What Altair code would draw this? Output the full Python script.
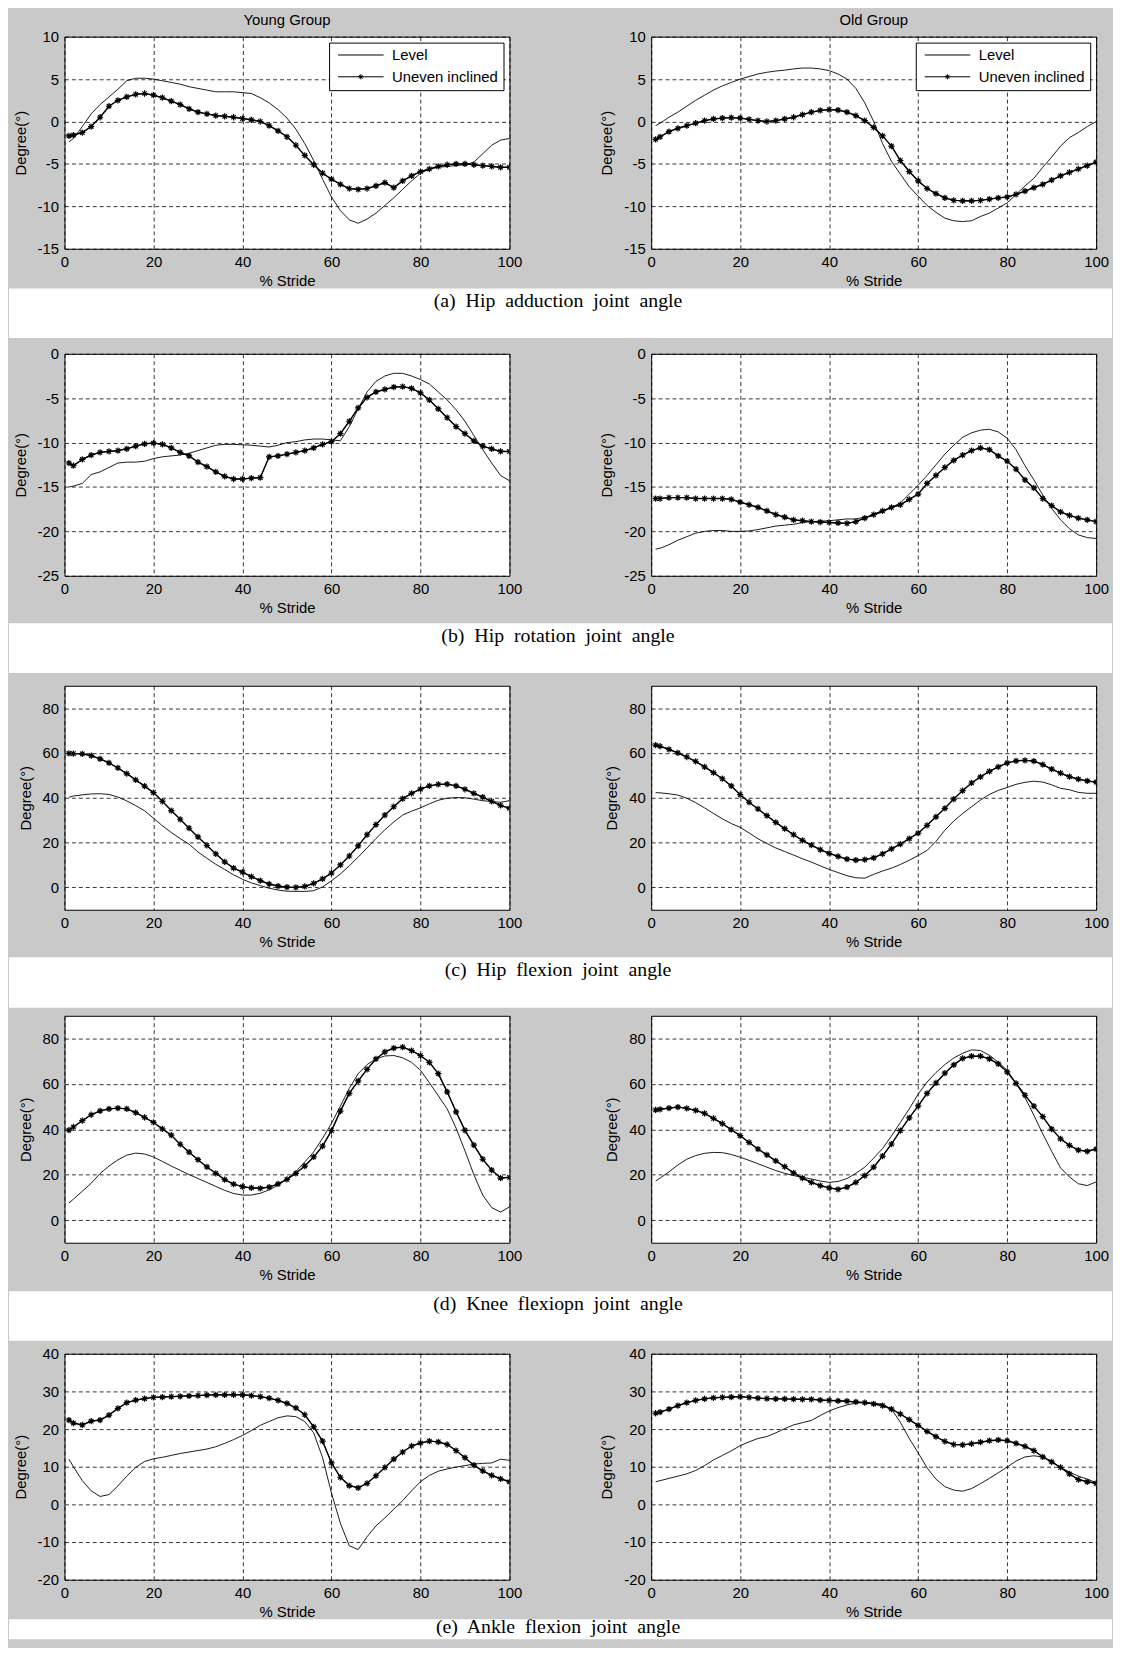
import altair as alt
import pandas as pd

# ---------------- data ----------------
STRIDE = [1, 2, 4, 6, 8, 10, 12, 14, 16, 18,
          20, 22, 24, 26, 28, 30, 32, 34, 36, 38,
          40, 42, 44, 46, 48, 50, 52, 54, 56, 58,
          60, 62, 64, 66, 68, 70, 72, 74, 76, 78,
          80, 82, 84, 86, 88, 90, 92, 94, 96, 98,
          100]
SERIES = ["Level", "Uneven inclined"]
X_TICKS = [0, 20, 40, 60, 80, 100]
GROUPS = ["Young Group", "Old Group"]
CAPTIONS = ["(a)  Hip  adduction  joint  angle",
            "(b)  Hip  rotation  joint  angle",
            "(c)  Hip  flexion  joint  angle",
            "(d)  Knee  flexiopn  joint  angle",
            "(e)  Ankle  flexion  joint  angle"]

# (a) hip adduction
A_YOUNG_LEVEL = [-2.4, -2.0, -0.6, 0.9, 2.0, 2.9, 3.8, 4.8, 5.1, 5.1,
                 5.0, 4.8, 4.6, 4.4, 4.1, 3.9, 3.7, 3.5, 3.5, 3.5,
                 3.4, 3.3, 2.8, 2.2, 1.4, 0.4, -0.9, -2.6, -4.6, -6.8,
                 -8.9, -10.5, -11.6, -12.0, -11.5, -10.8, -9.9, -9.0, -8.0, -7.0,
                 -6.1, -5.6, -5.4, -5.3, -5.2, -5.1, -4.8, -3.8, -2.8, -2.2,
                 -2.0]
A_YOUNG_UNEVEN = [-1.7, -1.6, -1.3, -0.6, 0.5, 1.8, 2.5, 2.9, 3.2, 3.3,
                  3.1, 2.8, 2.4, 2.0, 1.5, 1.1, 0.9, 0.7, 0.6, 0.5,
                  0.35, 0.2, 0.0, -0.5, -1.1, -1.8, -2.8, -4.0, -5.1, -6.1,
                  -6.8, -7.4, -7.9, -8.0, -7.9, -7.6, -7.2, -7.8, -7.0, -6.4,
                  -5.9, -5.6, -5.3, -5.1, -5.0, -5.0, -5.1, -5.2, -5.3, -5.4,
                  -5.4]
A_OLD_LEVEL = [-0.5, -0.2, 0.5, 1.1, 1.8, 2.5, 3.1, 3.7, 4.2, 4.6,
               5.0, 5.3, 5.6, 5.8, 5.95, 6.05, 6.2, 6.3, 6.3, 6.2,
               6.0, 5.6, 5.0, 3.9, 2.2, 0.0, -2.6, -4.7, -6.2, -7.7,
               -8.8, -9.9, -10.7, -11.4, -11.7, -11.8, -11.7, -11.2, -10.8, -10.2,
               -9.6, -8.6, -7.6, -6.7, -5.4, -4.2, -2.9, -1.9, -1.3, -0.6,
               0.0]
A_OLD_UNEVEN = [-2.1, -1.8, -1.2, -0.8, -0.5, -0.2, 0.1, 0.3, 0.4, 0.45,
                0.4, 0.25, 0.1, 0.0, 0.1, 0.3, 0.5, 0.8, 1.1, 1.3,
                1.4, 1.35, 1.1, 0.7, 0.1, -0.7, -1.7, -2.9, -4.6, -5.9,
                -7.0, -7.9, -8.5, -9.0, -9.3, -9.35, -9.35, -9.3, -9.15, -9.0,
                -8.9, -8.6, -8.2, -7.8, -7.4, -6.9, -6.4, -6.0, -5.6, -5.2,
                -4.8]

# (b) hip rotation
B_YOUNG_LEVEL = [-15.0, -14.9, -14.6, -13.6, -13.3, -12.8, -12.3, -12.2, -12.2, -12.1,
                 -11.8, -11.6, -11.5, -11.4, -11.2, -10.9, -10.6, -10.3, -10.2, -10.2,
                 -10.25, -10.3, -10.4, -10.5, -10.3, -10.0, -9.9, -9.7, -9.6, -9.6,
                 -9.7, -9.8, -8.2, -6.2, -4.3, -3.1, -2.5, -2.2, -2.2, -2.5,
                 -2.9, -3.4, -4.3, -5.2, -6.3, -7.6, -9.2, -10.8, -12.3, -13.7,
                 -14.3]
B_YOUNG_UNEVEN = [-12.3, -12.6, -11.9, -11.4, -11.1, -11.0, -10.9, -10.7, -10.4, -10.15,
                  -10.05, -10.2, -10.6, -11.1, -11.5, -12.2, -12.7, -13.3, -13.8, -14.1,
                  -14.1, -14.0, -13.95, -11.6, -11.5, -11.3, -11.1, -10.9, -10.6, -10.2,
                  -9.9, -9.0, -7.6, -6.1, -4.9, -4.3, -4.0, -3.75, -3.7, -3.9,
                  -4.4, -5.2, -6.2, -7.2, -8.2, -9.0, -9.8, -10.4, -10.7, -11.0,
                  -11.0]
B_OLD_LEVEL = [-22.0, -21.9, -21.5, -21.0, -20.6, -20.2, -20.0, -19.9, -19.9, -20.0,
               -20.0, -19.95, -19.8, -19.6, -19.4, -19.3, -19.2, -19.0, -18.9, -18.85,
               -18.8, -18.7, -18.6, -18.6, -18.4, -18.2, -17.8, -17.3, -16.8, -15.8,
               -14.8, -13.7, -12.5, -11.3, -10.3, -9.4, -8.9, -8.6, -8.5, -8.8,
               -9.5, -10.8, -12.6, -14.2, -15.9, -17.4, -18.7, -19.7, -20.4, -20.7,
               -20.8]
B_OLD_UNEVEN = [-16.3, -16.3, -16.2, -16.2, -16.2, -16.3, -16.3, -16.3, -16.3, -16.4,
                -16.7, -17.0, -17.3, -17.7, -18.1, -18.4, -18.7, -18.8, -18.9, -18.95,
                -19.0, -19.05, -19.1, -18.9, -18.5, -18.1, -17.7, -17.3, -17.0, -16.4,
                -15.8, -14.6, -13.7, -12.8, -12.0, -11.4, -10.9, -10.6, -10.8, -11.5,
                -12.1, -13.0, -14.2, -15.1, -16.3, -17.1, -17.8, -18.2, -18.5, -18.7,
                -18.9]

# (c) hip flexion
C_YOUNG_LEVEL = [40.2, 40.8, 41.3, 41.7, 41.8, 41.5, 40.3, 38.6, 36.5, 34.2,
                 30.9, 27.5, 24.5, 21.8, 19.3, 15.8, 13.0, 10.3, 8.0, 5.6,
                 3.6, 2.0, 0.8, -0.4, -1.2, -1.7, -1.8, -1.8, -1.5, 0.2,
                 2.9, 6.0, 9.6, 13.5, 17.6, 21.8, 25.7, 29.2, 32.3, 34.0,
                 35.5, 37.3, 38.9, 39.8, 40.1, 40.0, 39.4, 38.7, 38.3, 38.0,
                 38.7]
C_YOUNG_UNEVEN = [59.8, 59.7, 59.6, 58.8, 57.4, 55.6, 53.3, 50.8, 48.0, 45.2,
                  42.3, 38.4, 34.3, 30.4, 26.4, 22.5, 18.7, 15.0, 11.4, 8.6,
                  6.8, 4.8, 3.0, 1.5, 0.6, 0.1, 0.0, 0.4, 1.8, 3.8,
                  6.4, 10.0, 14.0, 18.5, 23.5, 28.0, 32.3, 36.0, 39.6, 42.0,
                  43.9, 45.3, 46.0, 46.1, 45.3, 43.8, 42.0, 40.3, 38.4, 36.6,
                  35.3]
C_OLD_LEVEL = [42.3, 42.2, 41.8, 41.2, 39.8, 37.8, 35.5, 33.0, 30.6, 28.5,
               26.8, 24.3, 21.7, 19.6, 17.6, 16.0, 14.4, 12.8, 11.3, 9.6,
               8.0, 6.6, 5.2, 4.3, 4.1, 5.8, 7.3, 8.6, 10.2, 12.1,
               14.2, 16.5, 20.5, 25.5, 29.6, 33.0, 36.0, 39.0, 41.5, 43.3,
               44.6, 46.0, 46.9, 47.4, 47.0, 45.8, 44.2, 43.6, 42.4, 42.0,
               42.0]
C_OLD_UNEVEN = [63.5, 63.0, 61.6, 60.0, 58.2, 56.2, 53.8, 51.2, 48.5, 45.3,
                41.4, 38.0, 35.0, 32.0, 29.0, 26.2, 23.5, 21.0, 18.9, 16.8,
                15.2, 13.8, 12.6, 12.2, 12.4, 13.2, 15.0, 17.2, 19.3, 21.8,
                24.2, 27.7, 31.5, 35.3, 39.4, 43.2, 46.6, 49.3, 51.8, 53.8,
                55.6, 56.5, 56.7, 56.4, 54.8, 52.8, 51.0, 49.4, 48.3, 47.5,
                47.0]

# (d) knee flexion
D_YOUNG_LEVEL = [7.5, 9.2, 12.7, 16.2, 20.5, 23.8, 26.5, 28.6, 29.5, 29.1,
                 27.8, 25.8, 23.8, 21.9, 20.0, 18.3, 16.6, 14.8, 13.1, 11.7,
                 11.0, 11.0, 11.8, 13.3, 15.3, 18.2, 21.4, 25.6, 30.0, 36.0,
                 42.6, 50.2, 58.0, 64.5, 68.5, 71.0, 72.3, 72.5, 71.5, 69.5,
                 66.0, 60.5, 54.8, 49.0, 40.5, 30.5, 20.0, 11.0, 5.5, 3.5,
                 5.8]
D_YOUNG_UNEVEN = [39.6, 41.0, 43.8, 46.4, 48.1, 49.0, 49.3, 49.0, 47.3, 45.2,
                  43.0, 40.2, 37.4, 33.4, 29.9, 26.6, 23.4, 20.6, 17.8, 15.8,
                  14.7, 14.2, 14.0, 14.5, 15.9, 17.9, 20.6, 23.8, 27.8, 32.6,
                  39.4, 48.0, 55.8, 61.3, 66.4, 71.0, 74.1, 75.8, 76.2, 74.7,
                  72.5, 69.5, 64.5, 56.5, 47.7, 39.5, 33.0, 26.8, 22.0, 18.5,
                  18.8]
D_OLD_LEVEL = [17.2, 18.5, 21.2, 24.3, 26.8, 28.4, 29.4, 29.8, 29.7, 28.9,
               27.7, 26.3, 24.8, 23.3, 21.8, 20.6, 19.6, 18.8, 18.1, 17.2,
               16.6, 17.0, 18.3, 20.6, 23.3, 27.3, 31.5, 37.0, 43.0, 49.0,
               55.5, 60.8, 65.0, 68.5, 71.4, 73.5, 75.0, 74.7, 72.6, 69.6,
               66.0, 60.2, 54.0, 46.2, 38.0, 30.3, 23.0, 19.0, 16.0, 15.2,
               16.8]
D_OLD_UNEVEN = [48.5, 48.8, 49.3, 49.8, 49.2, 48.3, 47.0, 44.8, 42.5, 39.8,
                37.2, 34.2, 31.3, 28.7, 26.1, 23.5, 20.8, 18.5, 16.6, 15.2,
                14.2, 13.5, 14.5, 16.6, 19.6, 23.3, 28.2, 33.5, 39.4, 45.0,
                50.3, 55.8, 60.4, 64.7, 68.4, 71.2, 72.2, 72.2, 71.0, 68.8,
                65.3, 60.2, 55.0, 50.2, 45.6, 40.1, 35.8, 32.9, 30.8, 30.3,
                31.3]

# (e) ankle flexion
E_YOUNG_LEVEL = [12.0, 10.0, 6.3, 3.6, 2.1, 2.6, 4.9, 7.5, 9.8, 11.4,
                 12.1, 12.5, 13.0, 13.5, 13.9, 14.3, 14.7, 15.3, 16.2, 17.2,
                 18.3, 19.6, 21.0, 22.0, 23.0, 23.5, 23.3, 22.0, 19.0, 12.4,
                 3.0, -5.0, -11.0, -12.0, -8.6, -5.7, -3.6, -1.3, 1.0, 3.6,
                 6.0, 7.7, 8.8, 9.4, 9.9, 10.3, 10.7, 10.9, 11.0, 12.0,
                 11.7]
E_YOUNG_UNEVEN = [22.4, 21.6, 21.1, 22.1, 22.4, 23.7, 25.5, 27.0, 27.7, 28.1,
                  28.4, 28.5, 28.6, 28.7, 28.8, 28.9, 29.0, 29.1, 29.1, 29.1,
                  29.1, 28.9, 28.6, 28.2, 27.6, 26.8, 25.6, 23.8, 20.6, 16.8,
                  11.0, 7.2, 5.0, 4.4, 5.6, 7.6, 9.8, 12.0, 13.9, 15.5,
                  16.3, 16.8, 16.6, 15.9, 14.3, 12.4, 10.4, 8.9, 7.7, 6.8,
                  6.0]
E_OLD_LEVEL = [6.0, 6.3, 6.9, 7.5, 8.1, 9.0, 10.3, 11.8, 13.0, 14.2,
               15.6, 16.6, 17.5, 18.0, 19.0, 20.1, 21.1, 21.7, 22.3, 23.6,
               24.8, 25.7, 26.4, 26.9, 27.1, 26.9, 26.6, 25.3, 21.8, 17.5,
               13.7, 9.7, 6.7, 4.7, 3.8, 3.5, 4.2, 5.5, 6.9, 8.4,
               9.9, 11.5, 12.6, 12.9, 12.6, 11.4, 9.8, 8.6, 7.5, 6.7,
               5.8]
E_OLD_UNEVEN = [24.2, 24.5, 25.3, 26.2, 27.0, 27.6, 28.0, 28.3, 28.4, 28.5,
                28.6, 28.4, 28.2, 28.1, 28.0, 28.0, 27.95, 27.9, 27.9, 27.7,
                27.6, 27.5, 27.4, 27.2, 27.0, 26.7, 26.2, 25.3, 24.0, 22.5,
                21.0, 19.4, 18.0, 16.7, 15.9, 15.8, 16.1, 16.5, 16.9, 17.1,
                16.9, 16.2, 15.4, 14.3, 12.6, 11.3, 9.8, 8.1, 6.6, 6.0,
                5.6]

Y_DOMAINS = [[-15, 10], [-25, 0], [-10, 90], [-10, 90], [-20, 40]]
Y_TICKS = [[-15, -10, -5, 0, 5, 10],
           [-25, -20, -15, -10, -5, 0],
           [0, 20, 40, 60, 80],
           [0, 20, 40, 60, 80],
           [-20, -10, 0, 10, 20, 30, 40]]

# ---------------- styling / layout ----------------
GRAY = "#c9c9c9"
SANS = "'Liberation Sans', Arial, sans-serif"
SERIF = "'Liberation Serif', 'Times New Roman', serif"
FS = 15
PANEL_W = 449
GAP_X = 143
LEFT_PAD = 56
TOTAL_W = 1113
ROW_H = [214, 224, 226, 229, 228]
GAP_H = [106, 111, 107, 112, 60]
WHITE = [(40, 90), (48, 98), (48, 99), (49, 99), (40, 60)]
CAP_BASE = [18.5, 18.5, 18.5, 18.5, 14]
CAP_X = 498
TITLE_Y = -17

ASTERISK = "M0,-1L0,1M-1,0L1,0M-0.7,-0.7L0.7,0.7M-0.7,0.7L0.7,-0.7"
LEG_LEVEL = "M-4,0L4,0"
LEG_UNEVEN = ("M-4,0L4,0M0,-0.45L0,0.45M-0.45,0L0.45,0"
              "M-0.3,-0.3L0.3,0.3M-0.3,0.3L0.3,-0.3")

ONE = pd.DataFrame({"k": [0]})


def panel(level, uneven, ydom, yticks, height, title=None, legend=False):
    n = len(STRIDE)
    df = pd.DataFrame({
        "stride": STRIDE + STRIDE,
        "deg": level + uneven,
        "series": [SERIES[0]] * n + [SERIES[1]] * n,
    })
    x = alt.X("stride:Q", scale=alt.Scale(domain=[0, 100], nice=False),
              axis=alt.Axis(values=X_TICKS, tickCount=len(X_TICKS), title="% Stride",
                            labelExpr="'' + datum.value", titlePadding=4, labelPadding=6))
    y = alt.Y("deg:Q", scale=alt.Scale(domain=ydom, nice=False, zero=False),
              axis=alt.Axis(values=yticks, tickCount=len(yticks), title="Degree(°)",
                            labelExpr="'' + datum.value", titlePadding=9, labelPadding=6))
    if legend:
        leg = alt.Legend(
            title=None, orient="top-right", offset=6,
            fillColor="white", strokeColor="black", padding=5, cornerRadius=0,
            labelFont=SANS, labelFontSize=FS, labelColor="black",
            symbolType=alt.ExprRef(
                "datum.value === 'Level' ? '%s' : '%s'" % (LEG_LEVEL, LEG_UNEVEN)),
            symbolSize=132, symbolStrokeWidth=1,
            symbolStrokeColor="black", symbolOffset=19.5, labelOffset=24,
            rowPadding=6,
        )
    else:
        leg = None
    lines = alt.Chart(df).mark_line(clip=True, strokeWidth=0.9).encode(
        x=x, y=y,
        color=alt.Color("series:N", scale=alt.Scale(domain=SERIES, range=["black", "black"]),
                        legend=leg),
        detail="series:N",
    )
    unev = alt.Chart(df).transform_filter(alt.datum.series == SERIES[1])
    unev_line = unev.mark_line(clip=True, color="black", strokeWidth=1.4).encode(
        x="stride:Q", y="deg:Q")
    unev_pts = unev.mark_point(shape=ASTERISK, size=40, filled=False, color="black",
                               strokeWidth=1.2, opacity=1, clip=True).encode(
        x="stride:Q", y="deg:Q")
    layers = [lines, unev_line, unev_pts]
    if title:
        layers.append(alt.Chart(ONE).mark_text(
            text=title, font=SANS, fontSize=FS, color="black", align="center",
            baseline="middle", clip=False).encode(
            x=alt.value(PANEL_W / 2), y=alt.value(TITLE_Y)))
    return alt.layer(*layers).properties(width=PANEL_W, height=height)


def caption_left(text, height, w0, w1, base):
    rect = alt.Chart(ONE).mark_rect(color="white", clip=False).encode(
        x=alt.value(-LEFT_PAD), x2=alt.value(TOTAL_W - LEFT_PAD),
        y=alt.value(w0), y2=alt.value(w1))
    txt = alt.Chart(ONE).mark_text(
        text=text.replace("  ", "\u00a0 "), font=SERIF, fontSize=20, color="black",
        align="center", baseline="alphabetic", clip=False).encode(
        x=alt.value(CAP_X), y=alt.value(w0 + base))
    return alt.layer(rect, txt).properties(
        width=PANEL_W, height=height,
        view=alt.ViewBackground(fill="transparent", stroke="transparent"))


def caption_right(height):
    blank = alt.Chart(ONE).mark_rect(opacity=0).encode(
        x=alt.value(0), x2=alt.value(1), y=alt.value(0), y2=alt.value(1))
    return blank.properties(
        width=PANEL_W, height=height,
        view=alt.ViewBackground(fill="transparent", stroke="transparent"))


DATA = [
    (A_YOUNG_LEVEL, A_YOUNG_UNEVEN, A_OLD_LEVEL, A_OLD_UNEVEN),
    (B_YOUNG_LEVEL, B_YOUNG_UNEVEN, B_OLD_LEVEL, B_OLD_UNEVEN),
    (C_YOUNG_LEVEL, C_YOUNG_UNEVEN, C_OLD_LEVEL, C_OLD_UNEVEN),
    (D_YOUNG_LEVEL, D_YOUNG_UNEVEN, D_OLD_LEVEL, D_OLD_UNEVEN),
    (E_YOUNG_LEVEL, E_YOUNG_UNEVEN, E_OLD_LEVEL, E_OLD_UNEVEN),
]

cells = []
for i, (yl, yu, ol, ou) in enumerate(DATA):
    first = i == 0
    cells.append(panel(yl, yu, Y_DOMAINS[i], Y_TICKS[i], ROW_H[i],
                       title=GROUPS[0] if first else None, legend=first))
    cells.append(panel(ol, ou, Y_DOMAINS[i], Y_TICKS[i], ROW_H[i],
                       title=GROUPS[1] if first else None, legend=first))
    cells.append(caption_left(CAPTIONS[i], GAP_H[i], WHITE[i][0], WHITE[i][1], CAP_BASE[i]))
    cells.append(caption_right(GAP_H[i]))

chart = alt.concat(
    *cells, columns=2, spacing={"row": 0, "column": GAP_X}, bounds="flush"
).resolve_scale(
    x="independent", y="independent", color="independent"
).resolve_legend(
    color="independent"
).properties(
    padding={"top": -3.5, "left": 0, "right": 0, "bottom": 0}, background=GRAY
).configure_view(
    stroke="black", strokeWidth=1, fill="white"
).configure_axis(
    labelFont=SANS, labelFontSize=FS, labelColor="black", labelFlush=False,
    labelOverlap=False,
    titleFont=SANS, titleFontSize=FS, titleFontWeight="normal", titleColor="black",
    grid=True, gridColor="black", gridDash=[4, 3], gridWidth=0.8, gridOpacity=1,
    domain=False, ticks=False
)

chart.save("out.html", embed_options={"renderer": "svg", "actions": False})
